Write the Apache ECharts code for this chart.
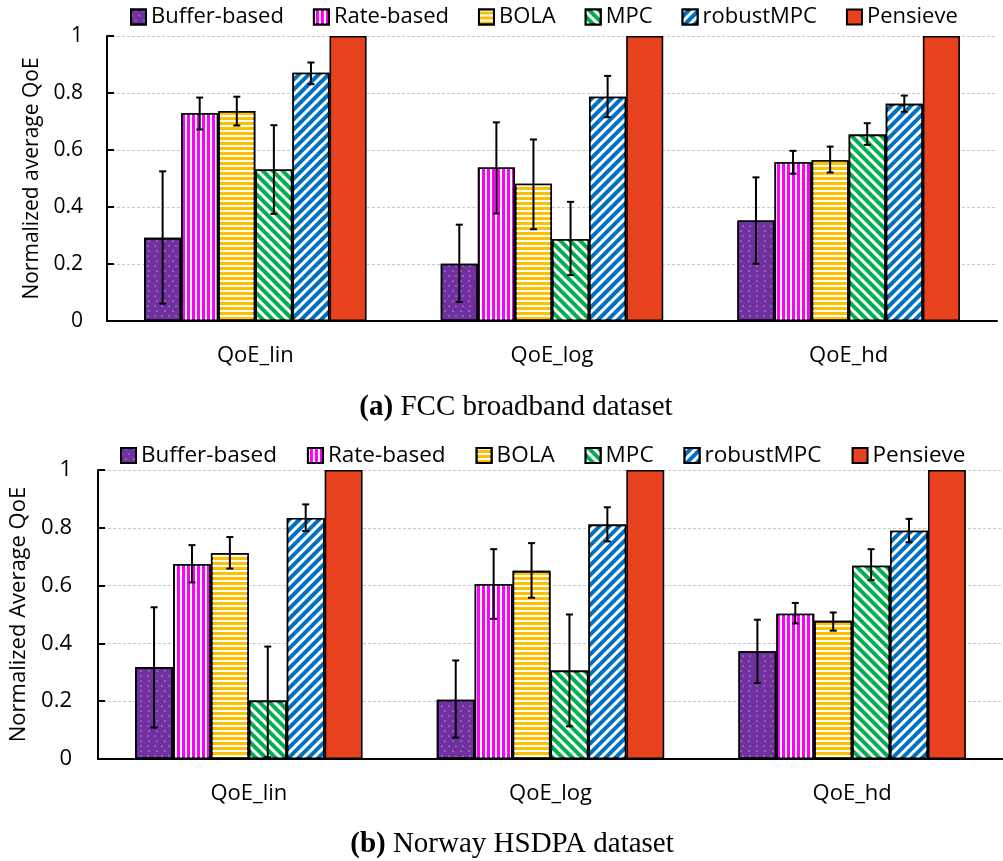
<!DOCTYPE html>
<html><head><meta charset="utf-8">
<script src="https://cdn.jsdelivr.net/npm/echarts@6/dist/echarts.min.js"></script>
<style>html,body{margin:0;padding:0;background:#fff}#c{width:1003px;height:861px}</style>
</head><body><div id="c"></div>
<script>
const categories = ['QoE_lin', 'QoE_log', 'QoE_hd'];
const seriesNames = ['Buffer-based', 'Rate-based', 'BOLA', 'MPC', 'robustMPC', 'Pensieve'];
const yTicks = [0, 0.2, 0.4, 0.6, 0.8, 1];

// (a) FCC broadband dataset
const fccBuffer = [0.292, 0.201, 0.353];
const fccRate = [0.729, 0.539, 0.557];
const fccBola = [0.737, 0.482, 0.564];
const fccMpc = [0.532, 0.287, 0.654];
const fccRobust = [0.871, 0.787, 0.762];
const fccPensieve = [1, 1, 1];
const fccBufferErr = [[0.061, 0.525], [0.067, 0.338], [0.201, 0.504]];
const fccRateErr = [[0.672, 0.784], [0.377, 0.697], [0.517, 0.597]];
const fccBolaErr = [[0.686, 0.787], [0.322, 0.637], [0.521, 0.612]];
const fccMpcErr = [[0.376, 0.687], [0.161, 0.418], [0.618, 0.694]];
const fccRobustErr = [[0.831, 0.907], [0.715, 0.860], [0.734, 0.791]];

// (b) Norway HSDPA dataset
const norBuffer = [0.318, 0.205, 0.373];
const norRate = [0.674, 0.605, 0.503];
const norBola = [0.713, 0.651, 0.478];
const norMpc = [0.202, 0.306, 0.669];
const norRobust = [0.834, 0.811, 0.790];
const norPensieve = [1, 1, 1];
const norBufferErr = [[0.109, 0.525], [0.074, 0.341], [0.263, 0.482]];
const norRateErr = [[0.611, 0.740], [0.485, 0.726], [0.469, 0.540]];
const norBolaErr = [[0.659, 0.768], [0.558, 0.747], [0.444, 0.507]];
const norMpcErr = [[0.006, 0.389], [0.113, 0.500], [0.619, 0.726]];
const norRobustErr = [[0.789, 0.881], [0.753, 0.871], [0.750, 0.831]];

const colors = ['#7030A0', '#FF00FF', '#FFC000', '#00B050', '#0070C0', '#E8411E'];
const decals = [
  {symbol: 'circle', color: '#ffffff', symbolSize: 0.6, dashArrayX: [[2, 5], [0, 3.5, 2, 1.5]], dashArrayY: [2, 3]},
  {symbol: 'rect', color: '#ffffff', symbolSize: 1, dashArrayX: [2, 3], dashArrayY: [1, 0]},
  {symbol: 'rect', color: '#ffffff', symbolSize: 1, dashArrayX: [1, 0], dashArrayY: [2, 3]},
  {symbol: 'rect', color: '#ffffff', symbolSize: 1, dashArrayX: [1, 0], dashArrayY: [2.5, 3.5], rotation: Math.PI / 4},
  {symbol: 'rect', color: '#ffffff', symbolSize: 1, dashArrayX: [1, 0], dashArrayY: [2.5, 3.5], rotation: -Math.PI / 4}
];

const FONT = 'Open Sans';
const gaps = [0.25, 0.246];

function buildPanel(idx, values, errs) {
  const out = [];
  values.forEach((vals, i) => {
    out.push({
      type: 'bar', name: seriesNames[i], xAxisIndex: idx, yAxisIndex: idx,
      data: vals, barGap: '0%', barCategoryGap: (gaps[idx] * 100) + '%',
      itemStyle: {color: colors[i], borderColor: '#000', borderWidth: 1.6, decal: i < 5 ? decals[i] : undefined},
      emphasis: {disabled: true}, z: 2
    });
  });
  errs.forEach((e, i) => {
    out.push({
      type: 'custom', name: 'err' + idx + '_' + i, xAxisIndex: idx, yAxisIndex: idx, z: 5,
      data: e.map((d, k) => [k, d[0], d[1]]),
      renderItem: (params, api) => {
        const c = api.value(0);
        const lo = api.coord([c, api.value(1)]);
        const hi = api.coord([c, api.value(2)]);
        const band = api.size([1, 0])[0];
        const bw = band * (1 - gaps[idx]) / 6;
        const x = lo[0] + (i - 2.5) * bw;
        const st = {stroke: '#000', lineWidth: 2};
        return {type: 'group', children: [
          {type: 'line', shape: {x1: x, y1: lo[1], x2: x, y2: hi[1]}, style: st},
          {type: 'line', shape: {x1: x - 3.5, y1: lo[1], x2: x + 3.5, y2: lo[1]}, style: st},
          {type: 'line', shape: {x1: x - 3.5, y1: hi[1], x2: x + 3.5, y2: hi[1]}, style: st}
        ]};
      }
    });
  });
  return out;
}

const series = [].concat(
  buildPanel(0, [fccBuffer, fccRate, fccBola, fccMpc, fccRobust, fccPensieve],
    [fccBufferErr, fccRateErr, fccBolaErr, fccMpcErr, fccRobustErr]),
  buildPanel(1, [norBuffer, norRate, norBola, norMpc, norRobust, norPensieve],
    [norBufferErr, norRateErr, norBolaErr, norMpcErr, norRobustErr])
);

function xAxis(gi) {
  return {type: 'category', gridIndex: gi, data: categories,
    axisLine: {lineStyle: {color: '#000', width: 2}}, axisTick: {show: false},
    axisLabel: {fontFamily: FONT, fontSize: 22, color: '#000', margin: 24}};
}
function yAxis(gi, name, gap, lblMargin, fs) {
  return {type: 'value', gridIndex: gi, min: 0, max: 1, interval: 0.2,
    name: name, nameLocation: 'middle', nameGap: gap, nameRotate: 90,
    nameTextStyle: {fontFamily: FONT, fontSize: fs, color: '#000'},
    axisLine: {show: true, lineStyle: {color: '#000', width: 2}},
    axisTick: {show: true, inside: true, length: 7, lineStyle: {color: '#000', width: 2}},
    axisLabel: {fontFamily: FONT, fontSize: fs, color: '#000', margin: lblMargin,
      formatter: v => yTicks.indexOf(Math.round(v * 10) / 10) >= 0 ? String(Math.round(v * 10) / 10) : ''},
    splitLine: {show: true, lineStyle: {color: '#c8c8c8', type: [3, 2], width: 1}}};
}
function legend(left, top, fs, gap) {
  return {left: left, top: top, itemWidth: 15, itemHeight: 15, itemGap: gap,
    icon: 'rect', data: seriesNames.map(n => ({name: n})),
    textStyle: {fontFamily: FONT, fontSize: fs, color: '#000'},
    selectedMode: false};
}
function caption(text, x, y) {
  return {text: text, left: x, top: y, textAlign: 'center',
    textStyle: {fontFamily: 'Liberation Serif', fontSize: 29, fontWeight: 'normal', color: '#000',
      rich: {b: {fontFamily: 'Liberation Serif', fontSize: 29, fontWeight: 'bold', color: '#000'}}}};
}

const chart = echarts.init(document.getElementById('c'), null, {renderer: 'canvas'});
chart.setOption({
  animation: false,
  aria: {enabled: false},
  grid: [
    {left: 107, right: 6, top: 36, height: 285},
    {left: 97, right: -6, top: 470, height: 289}
  ],
  legend: [legend(125, 1, 22, 29), legend(115, 439, 22.5, 30)],
  title: [
    caption('{b|(a)} FCC broadband dataset', 511, 388),
    caption('{b|(b)} Norway HSDPA dataset', 507, 825)
  ],
  xAxis: [xAxis(0), xAxis(1)],
  yAxis: [yAxis(0, 'Normalized average QoE', 64, 24, 21), yAxis(1, 'Normalized Average QoE', 68, 26, 22)],
  series: series
});
</script></body></html>
